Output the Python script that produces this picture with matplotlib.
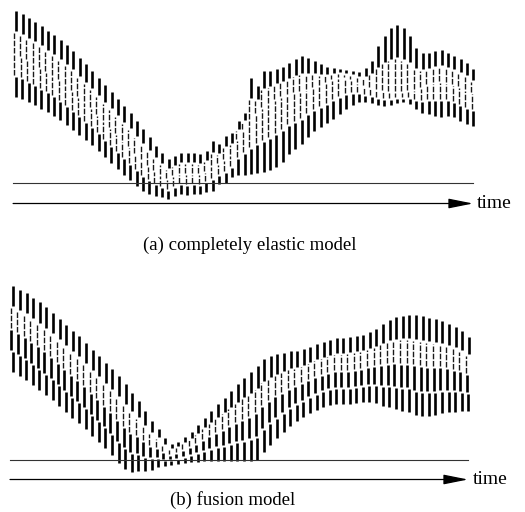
import numpy as np
import matplotlib

matplotlib.use("Agg")
import matplotlib.pyplot as plt
from matplotlib.collections import LineCollection

# heights above the ground line, one value per time step (pixels of the scan)
# (a) completely elastic model: bottom node, middle node, top node
top_a = [173, 170, 166, 162, 158, 153, 149, 144, 139, 133, 126, 120, 113, 106, 99,
         92, 85, 78, 71, 63, 55, 47, 38, 31, 25, 28, 31, 31, 31, 30, 33, 43, 40, 48,
         51, 63, 71, 106, 98, 113, 113, 115, 117, 121, 125, 128, 126, 123, 120, 117,
         116, 115, 114, 113, 112, 116, 123, 138, 148, 156, 159, 156, 148, 136, 131,
         131, 133, 134, 131, 128, 125, 121, 115]
mid_a = [129, 126.5, 123, 119.5, 115.5, 111.5, 107.5, 103, 98, 92.5, 86.5, 81, 75,
         68.5, 62, 55.5, 49, 42.5, 36.5, 29.5, 23, 17.5, 12, 8, 4, 7, 9.5, 9, 9.5, 9,
         11.5, 17, 19, 23.5, 28, 43, 53, 63, 69, 75, 79, 83, 86, 88, 90, 91, 93, 95,
         97, 100, 103, 105, 105, 103, 100, 97, 95, 93, 92, 91, 91, 91, 92, 93, 95, 98,
         100, 101, 100, 98, 96, 93, 90]
bot_a = [85, 83, 80, 77, 73, 70, 66, 62, 57, 52, 47, 42, 37, 31, 25, 19, 13, 7, 2,
         -4, -9, -12, -14, -15, -17, -14, -12, -13, -12, -12, -10, -9, -2, -1, 5, 7,
         7, 8, 9, 10, 12, 15, 20, 28, 33, 38, 45, 51, 55, 59, 63, 68, 73, 77, 80, 80,
         79, 77, 76, 77, 79, 80, 78, 73, 69, 68, 66, 65, 66, 65, 61, 58, 56]

# (b) fusion model: bottom node, top node
top_b = [175, 171, 168, 163, 159, 154, 148, 142, 136, 130, 125, 118, 111, 105, 98,
         92, 85, 77, 68, 60, 50, 40, 32, 23, 17, 19, 24, 29, 36, 43, 50, 57, 63, 70,
         77, 83, 89, 95, 102, 105, 107, 108, 110, 110, 112, 114, 117, 119, 121, 123,
         123, 124, 125, 126, 129, 132, 137, 141, 144, 145, 146, 146, 145, 143, 142,
         140, 137, 134, 130, 124]
bot_b = [87, 83, 79, 74, 69, 64, 59, 53, 47, 41, 36, 30, 23, 17, 11, 4, -4, -10, -13,
         -12, -12, -11, -8, -7, -6, -5, -4, -3, -3, -2, -2, -2, -2, -2, -2, -2, -2, -1,
         7, 14, 21, 27, 33, 38, 42, 46, 49, 52, 54, 55, 55, 55, 56, 57, 57, 56, 53, 52,
         50, 48, 47, 44, 43, 43, 44, 46, 47, 47, 48, 48]

captions = ["(a) completely elastic model", "(b) fusion model"]
axis_label = "time"

W, H = 525, 512
fig = plt.figure(figsize=(W / 100, H / 100), dpi=100)
serif = ["Liberation Serif", "DejaVu Serif"]


def make_axes(top_px, bottom_px, ground_px, x0_px, dx_px):
    # axes spanning the whole width, x in time steps, y in pixels above ground
    ax = fig.add_axes([0, 1 - bottom_px / H, 1, (bottom_px - top_px) / H])
    ax.set_xlim(-x0_px / dx_px, (W - x0_px) / dx_px)
    ax.set_ylim(ground_px - bottom_px, ground_px - top_px)
    ax.axis("off")
    return ax


def draw_columns(ax, nodes, thick):
    # nodes: array (n_steps, 5) bottom..top, thick: flag per segment (bottom..top)
    shift = [0.15, -0.1, -0.2, 0.2]
    segs_k, segs_t = [], []
    for i, col in enumerate(nodes):
        for k in range(4):
            y0, y1 = col[k] + 1.0, col[k + 1] - 1.0
            if y1 <= y0:
                y0 = y1 = 0.5 * (col[k] + col[k + 1])
                y1 += 0.6
            seg = [(i + shift[k], y0), (i + shift[k], y1)]
            (segs_k if thick[k] else segs_t).append(seg)
    ax.add_collection(LineCollection(segs_t, colors="#1a1a1a", linewidths=1.0,
                                     linestyles=[(0, (4, 1.2))]))
    ax.add_collection(LineCollection(segs_k, colors="black", linewidths=1.9))


def draw_ground(ax, t_end, arrow_h, text_dt):
    ax.plot([-0.3, t_end], [0, 0], color="#333333", lw=0.8)
    ax.annotate(
        "",
        xy=(t_end, arrow_h),
        xytext=(-0.3, arrow_h),
        arrowprops=dict(
            arrowstyle="-|>,head_length=1.5,head_width=0.3",
            mutation_scale=10,
            color="black",
            lw=0.9,
            shrinkA=0,
            shrinkB=0,
        ),
    )
    ax.text(t_end + text_dt, arrow_h, axis_label, fontsize=14, family=serif,
            ha="left", va="center")


# panel (a)
ax_a = make_axes(0, 225, 183, 15, 6.35)
top = np.array(top_a, float)
mid = np.array(mid_a, float)
bot = np.array(bot_a, float)
nodes_a = np.stack([bot, 0.5 * (bot + mid), mid, 0.5 * (mid + top), top], axis=1)
draw_columns(ax_a, nodes_a, [True, False, False, True])
draw_ground(ax_a, (473 - 15) / 6.35, -20.5, 0.6)

# panel (b)
ax_b = make_axes(265, 490, 460, 12, 6.6)
top = np.array(top_b, float)
bot = np.array(bot_b, float)
nodes_b = np.stack([bot + k * (top - bot) / 4 for k in range(5)], axis=1)
draw_columns(ax_b, nodes_b, [True, True, False, True])
draw_ground(ax_b, (468 - 12) / 6.6, -19.5, 0.7)

fig.text(250 / W, 1 - 245 / H, captions[0], fontsize=13.5, family=serif,
         ha="center", va="center")
fig.text(233 / W, 1 - 500 / H, captions[1], fontsize=13.5, family=serif,
         ha="center", va="center")

fig.savefig("out.png", dpi=100)
